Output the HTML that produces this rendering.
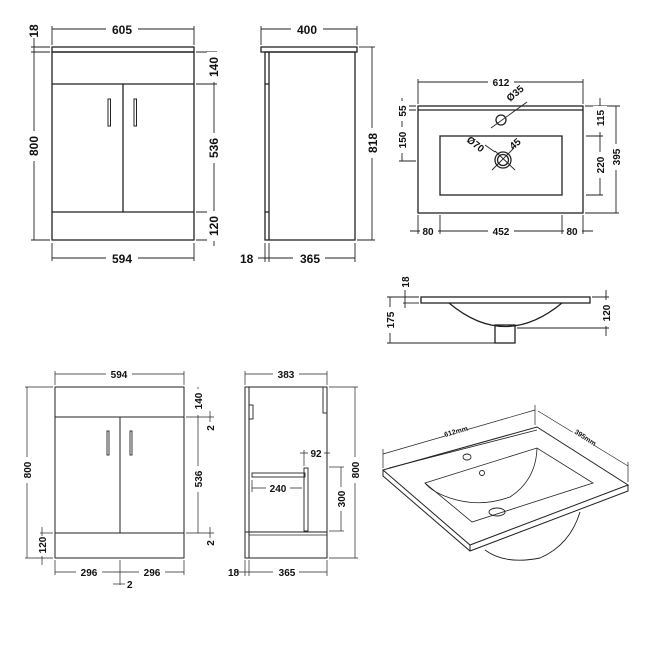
<!DOCTYPE html>
<html><head><meta charset="utf-8"><style>
html,body{margin:0;padding:0;background:#fff}
svg{display:block}
text{font-family:"Liberation Sans",Arial,sans-serif;font-weight:bold;fill:#111}
.b{font-size:12px}
.s{font-size:10px}
</style></head><body>
<svg width="650" height="650" viewBox="0 0 650 650" xmlns="http://www.w3.org/2000/svg">
<g fill="none" stroke="#222" stroke-width="1.3">
<!-- FRONT VIEW TOP -->
<rect x="52" y="47" width="142" height="5"/>
<rect x="52" y="52" width="142" height="188"/>
<line x1="52" y1="84" x2="194" y2="84"/>
<line x1="52" y1="212" x2="194" y2="212"/>
<line x1="123" y1="84" x2="123" y2="212"/>
<rect x="108" y="99" width="2.5" height="27" stroke-width="1"/>
<rect x="134" y="99" width="2.5" height="27" stroke-width="1"/>
<g stroke-width="0.9">
<line x1="52" y1="29" x2="194" y2="29"/><line x1="52" y1="26" x2="52" y2="45"/><line x1="194" y1="26" x2="194" y2="45"/>
<line x1="34" y1="38" x2="34" y2="240"/><line x1="31" y1="47" x2="50" y2="47"/><line x1="31" y1="52" x2="50" y2="52"/><line x1="31" y1="240" x2="50" y2="240"/>
<line x1="214" y1="52" x2="214" y2="246"/><line x1="196" y1="52" x2="217" y2="52"/><line x1="196" y1="84" x2="217" y2="84"/><line x1="196" y1="212" x2="217" y2="212"/><line x1="196" y1="240" x2="217" y2="240"/>
<line x1="52" y1="258" x2="194" y2="258"/><line x1="52" y1="243" x2="52" y2="261"/><line x1="194" y1="243" x2="194" y2="261"/>
</g>
<!-- SIDE VIEW TOP -->
<rect x="261" y="47" width="96" height="5"/>
<rect x="265" y="52" width="90" height="188"/>
<line x1="269" y1="52" x2="269" y2="240"/>
<line x1="265" y1="84" x2="269" y2="84"/><line x1="265" y1="212" x2="269" y2="212"/>
<g stroke-width="0.9">
<line x1="261" y1="29" x2="357" y2="29"/><line x1="261" y1="26" x2="261" y2="45"/><line x1="357" y1="26" x2="357" y2="45"/>
<line x1="372" y1="47" x2="372" y2="240"/><line x1="359" y1="47" x2="375" y2="47"/><line x1="357" y1="240" x2="375" y2="240"/>
<line x1="258" y1="258" x2="355" y2="258"/><line x1="265" y1="243" x2="265" y2="262"/><line x1="269" y1="243" x2="269" y2="262"/><line x1="355" y1="243" x2="355" y2="262"/>
</g>
<!-- BASIN TOP -->
<rect x="418" y="106" width="165" height="107"/>
<line x1="418" y1="110" x2="583" y2="110"/>
<rect x="440" y="136" width="122" height="59"/>
<circle cx="501" cy="120" r="5"/>
<line x1="491" y1="128" x2="527" y2="102" stroke-width="0.9"/>
<circle cx="503" cy="160" r="8"/><circle cx="503" cy="160" r="5.5"/>
<line x1="495" y1="151" x2="515" y2="170" stroke-width="0.9"/>
<line x1="492" y1="170" x2="514" y2="148" stroke-width="0.9"/>
<line x1="485" y1="145" x2="495" y2="152" stroke-width="0.9"/>
<g stroke-width="0.9">
<line x1="418" y1="82" x2="583" y2="82"/><line x1="418" y1="79" x2="418" y2="104"/><line x1="583" y1="79" x2="583" y2="104"/>
<line x1="402" y1="98" x2="402" y2="161"/><line x1="399" y1="106" x2="416" y2="106"/><line x1="399" y1="110" x2="416" y2="110"/><line x1="399" y1="161" x2="416" y2="161"/>
<line x1="600" y1="98" x2="600" y2="195"/><line x1="585" y1="106" x2="620" y2="106"/><line x1="586" y1="136" x2="603" y2="136"/><line x1="586" y1="195" x2="603" y2="195"/>
<line x1="616" y1="106" x2="616" y2="213"/><line x1="585" y1="213" x2="619" y2="213"/>
<line x1="410" y1="231" x2="593" y2="231"/><line x1="418" y1="215" x2="418" y2="234"/><line x1="440" y1="215" x2="440" y2="234"/><line x1="562" y1="215" x2="562" y2="234"/><line x1="583" y1="215" x2="583" y2="234"/>
</g>
<!-- BASIN SECTION -->
<rect x="421" y="297" width="169" height="6"/>
<path d="M449,303 Q505,350 562,303"/>
<rect x="495" y="325" width="20" height="18"/>
<g stroke-width="0.9">
<line x1="390" y1="297" x2="390" y2="343"/><line x1="387" y1="297" x2="419" y2="297"/><line x1="387" y1="343" x2="495" y2="343"/>
<line x1="405" y1="290" x2="405" y2="308"/><line x1="403" y1="303" x2="419" y2="303"/>
<line x1="606" y1="290" x2="606" y2="336"/><line x1="592" y1="297" x2="609" y2="297"/><line x1="517" y1="328" x2="609" y2="328"/>
</g>
<!-- FRONT VIEW BOTTOM -->
<rect x="55" y="387" width="129" height="171" stroke-width="1"/>
<line x1="55" y1="417" x2="184" y2="417" stroke-width="1"/>
<line x1="55" y1="533" x2="184" y2="533" stroke-width="1"/>
<line x1="120" y1="417" x2="120" y2="533" stroke-width="1"/>
<rect x="107" y="431" width="2" height="24" stroke-width="0.9"/>
<rect x="130" y="431" width="2" height="24" stroke-width="0.9"/>
<g stroke-width="0.7">
<line x1="55" y1="374" x2="184" y2="374"/><line x1="55" y1="371" x2="55" y2="385"/><line x1="184" y1="371" x2="184" y2="385"/>
<line x1="27" y1="387" x2="27" y2="558"/><line x1="25" y1="387" x2="53" y2="387"/><line x1="25" y1="558" x2="53" y2="558"/>
<line x1="198" y1="387" x2="198" y2="533"/><line x1="186" y1="417" x2="214" y2="417"/><line x1="186" y1="533" x2="214" y2="533"/>
<line x1="210" y1="411" x2="210" y2="422"/><line x1="210" y1="527" x2="210" y2="538"/>
<line x1="42" y1="527" x2="42" y2="565"/><line x1="40" y1="533" x2="53" y2="533"/>
<line x1="55" y1="572" x2="184" y2="572"/><line x1="55" y1="560" x2="55" y2="575"/><line x1="184" y1="560" x2="184" y2="575"/><line x1="120" y1="560" x2="120" y2="585"/><line x1="113" y1="584" x2="125" y2="584"/>
</g>
<!-- SIDE VIEW BOTTOM -->
<rect x="245" y="387" width="82" height="171" stroke-width="1"/>
<line x1="249" y1="387" x2="249" y2="558" stroke-width="1"/>
<rect x="249" y="405" width="4" height="14" stroke-width="0.9"/>
<rect x="323" y="387" width="4" height="26" stroke-width="0.9"/>
<rect x="252" y="473" width="53" height="4" stroke-width="0.9"/>
<rect x="304" y="468" width="4" height="63" stroke-width="0.9"/>
<line x1="245" y1="532" x2="327" y2="532" stroke-width="1"/>
<line x1="249" y1="535" x2="327" y2="535" stroke-width="0.8"/>
<g stroke-width="0.7">
<line x1="245" y1="374" x2="327" y2="374"/><line x1="245" y1="371" x2="245" y2="385"/><line x1="327" y1="371" x2="327" y2="385"/>
<line x1="355" y1="387" x2="355" y2="558"/><line x1="329" y1="387" x2="358" y2="387"/><line x1="329" y1="558" x2="358" y2="558"/>
<line x1="300" y1="453" x2="330" y2="453"/><line x1="304" y1="450" x2="304" y2="466"/>
<line x1="341" y1="467" x2="341" y2="531"/><line x1="329" y1="467" x2="344" y2="467"/><line x1="329" y1="531" x2="344" y2="531"/>
<line x1="252" y1="488" x2="302" y2="488"/><line x1="252" y1="480" x2="252" y2="492"/>
<line x1="237" y1="572" x2="327" y2="572"/><line x1="245" y1="560" x2="245" y2="576"/><line x1="249" y1="560" x2="249" y2="576"/><line x1="327" y1="560" x2="327" y2="576"/>
</g>
<!-- ISO -->
<path d="M383,470 L537,427 L628,485 L470,545 Z" stroke-width="1"/>
<path d="M383,470 L383,476 L470,551 L628,491 L628,485" stroke-width="1"/>
<line x1="470" y1="545" x2="470" y2="551" stroke-width="1"/>
<line x1="389" y1="468" x2="537" y2="430" stroke-width="0.8"/>
<path d="M425,483 L537,448 L593,483 L472,522 Z" stroke-width="0.8"/>
<path d="M537,448 Q536,480 510,497 Q480,508 450,498 Q432,492 425,483" stroke-width="0.8"/>
<path d="M485,550 Q505,565 540,558 Q570,545 580,512" stroke-width="0.9"/>
<ellipse cx="467" cy="457" rx="4" ry="3" stroke-width="0.9"/>
<ellipse cx="482" cy="473" rx="2.5" ry="2.5" stroke-width="0.9"/>
<ellipse cx="497" cy="512" rx="8" ry="4" stroke-width="0.9"/>
<g stroke-width="0.7">
<line x1="383" y1="454" x2="535" y2="410"/><line x1="383" y1="449" x2="383" y2="468"/><line x1="535" y1="405" x2="535" y2="425"/>
<line x1="538" y1="411" x2="628" y2="466"/><line x1="628" y1="462" x2="628" y2="482"/>
</g>
</g>
<!-- TEXT -->
<g>
<rect x="106" y="22" width="32" height="14" fill="#fff"/><text class="b" x="122" y="34" text-anchor="middle">605</text>
<rect x="291" y="22" width="32" height="14" fill="#fff"/><text class="b" x="307" y="34" text-anchor="middle">400</text>
<rect x="106" y="251" width="32" height="14" fill="#fff"/><text class="b" x="122" y="263" text-anchor="middle">594</text>
<rect x="293" y="251" width="32" height="14" fill="#fff"/><text class="b" x="310" y="263" text-anchor="middle">365</text>
<text class="b" x="240" y="263">18</text>
<text class="b" transform="translate(38,31) rotate(-90)" text-anchor="middle">18</text>
<rect x="27" y="131" width="14" height="30" fill="#fff"/><text class="b" transform="translate(38,146) rotate(-90)" text-anchor="middle">800</text>
<rect x="207" y="52" width="14" height="30" fill="#fff"/><text class="b" transform="translate(218,67) rotate(-90)" text-anchor="middle">140</text>
<rect x="207" y="133" width="14" height="30" fill="#fff"/><text class="b" transform="translate(218,148) rotate(-90)" text-anchor="middle">536</text>
<rect x="207" y="211" width="14" height="30" fill="#fff"/><text class="b" transform="translate(218,226) rotate(-90)" text-anchor="middle">120</text>
<rect x="365" y="128" width="14" height="30" fill="#fff"/><text class="b" transform="translate(377,143) rotate(-90)" text-anchor="middle">818</text>
<rect x="488" y="76" width="26" height="12" fill="#fff"/><text class="s" x="501" y="86" text-anchor="middle">612</text>
<rect x="395" y="101" width="14" height="20" fill="#fff"/><text class="s" transform="translate(406,111) rotate(-90)" text-anchor="middle">55</text>
<rect x="395" y="127" width="14" height="26" fill="#fff"/><text class="s" transform="translate(406,140) rotate(-90)" text-anchor="middle">150</text>
<rect x="593" y="106" width="14" height="26" fill="#fff"/><text class="s" transform="translate(604,118) rotate(-90)" text-anchor="middle">115</text>
<rect x="593" y="152" width="14" height="26" fill="#fff"/><text class="s" transform="translate(604,165) rotate(-90)" text-anchor="middle">220</text>
<rect x="609" y="144" width="14" height="26" fill="#fff"/><text class="s" transform="translate(620,157) rotate(-90)" text-anchor="middle">395</text>
<text class="s" transform="translate(510,102) rotate(-40)">Ø35</text>
<text class="s" transform="translate(466,141) rotate(38)">Ø70</text>
<text class="s" transform="translate(513,150) rotate(-40)">45</text>
<rect x="420" y="225" width="18" height="12" fill="#fff"/><text class="s" x="428" y="235" text-anchor="middle">80</text>
<rect x="488" y="225" width="26" height="12" fill="#fff"/><text class="s" x="501" y="235" text-anchor="middle">452</text>
<rect x="564" y="225" width="18" height="12" fill="#fff"/><text class="s" x="572" y="235" text-anchor="middle">80</text>
<text class="s" transform="translate(409,282) rotate(-90)" text-anchor="middle">18</text>
<rect x="383" y="307" width="14" height="26" fill="#fff"/><text class="s" transform="translate(394,320) rotate(-90)" text-anchor="middle">175</text>
<rect x="599" y="300" width="14" height="26" fill="#fff"/><text class="s" transform="translate(610,313) rotate(-90)" text-anchor="middle">120</text>
<rect x="106" y="368" width="26" height="12" fill="#fff"/><text class="s" x="119" y="378" text-anchor="middle">594</text>
<rect x="273" y="368" width="26" height="12" fill="#fff"/><text class="s" x="286" y="378" text-anchor="middle">383</text>
<rect x="20" y="457" width="14" height="26" fill="#fff"/><text class="s" transform="translate(31,470) rotate(-90)" text-anchor="middle">800</text>
<rect x="348" y="457" width="14" height="26" fill="#fff"/><text class="s" transform="translate(359,470) rotate(-90)" text-anchor="middle">800</text>
<rect x="191" y="389" width="14" height="26" fill="#fff"/><text class="s" transform="translate(202,401) rotate(-90)" text-anchor="middle">140</text>
<rect x="191" y="466" width="14" height="26" fill="#fff"/><text class="s" transform="translate(202,479) rotate(-90)" text-anchor="middle">536</text>
<text class="s" transform="translate(214,428) rotate(-90)" text-anchor="middle">2</text>
<text class="s" transform="translate(214,543) rotate(-90)" text-anchor="middle">2</text>
<rect x="35" y="536" width="14" height="20" fill="#fff"/><text class="s" transform="translate(46,545) rotate(-90)" text-anchor="middle">120</text>
<rect x="76" y="566" width="26" height="12" fill="#fff"/><text class="s" x="89" y="576" text-anchor="middle">296</text>
<rect x="139" y="566" width="26" height="12" fill="#fff"/><text class="s" x="152" y="576" text-anchor="middle">296</text>
<text class="s" x="127" y="588">2</text>
<rect x="308" y="447" width="16" height="12" fill="#fff"/><text class="s" x="316" y="457" text-anchor="middle">92</text>
<rect x="334" y="487" width="14" height="24" fill="#fff"/><text class="s" transform="translate(345,499) rotate(-90)" text-anchor="middle">300</text>
<rect x="266" y="482" width="24" height="12" fill="#fff"/><text class="s" x="278" y="492" text-anchor="middle">240</text>
<rect x="273" y="566" width="26" height="12" fill="#fff"/><text class="s" x="287" y="576" text-anchor="middle">365</text>
<text class="s" x="228" y="576">18</text>
<rect x="444" y="426" width="22" height="10" fill="#fff" transform="rotate(-16 455 431)"/>
<text transform="translate(445,437) rotate(-16)" style="font-size:7px">612mm</text>
<rect x="572" y="432" width="24" height="10" fill="#fff" transform="rotate(33 584 437)"/>
<text transform="translate(574,433) rotate(33)" style="font-size:7px">395mm</text>
</g>
</svg>
</body></html>
